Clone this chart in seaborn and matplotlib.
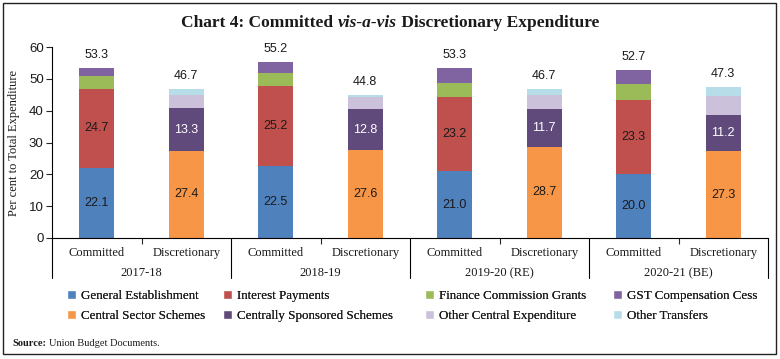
import numpy as np
import pandas as pd
import seaborn as sns
import matplotlib.pyplot as plt
from matplotlib.patches import Rectangle, Patch

# data (per cent to total expenditure)
years = ['2017-18', '2018-19', '2019-20 (RE)', '2020-21 (BE)']
kinds = ['Committed', 'Discretionary']

committed_names = ['General Establishment', 'Interest Payments',
                   'Finance Commission Grants', 'GST Compensation Cess']
general_est = [22.1, 22.5, 21.0, 20.0]
interest_pay = [24.7, 25.2, 23.2, 23.3]
fc_grants = [4.2, 4.1, 4.5, 5.0]
gst_cess = [2.3, 3.4, 4.6, 4.4]
committed_total = [53.3, 55.2, 53.3, 52.7]

discretionary_names = ['Central Sector Schemes', 'Centrally Sponsored Schemes',
                       'Other Central Expenditure', 'Other Transfers']
central_sector = [27.4, 27.6, 28.7, 27.3]
centrally_sponsored = [13.3, 12.8, 11.7, 11.2]
other_central = [4.3, 4.0, 4.4, 6.0]
other_transfers = [1.7, 0.4, 1.9, 2.8]
discretionary_total = [46.7, 44.8, 46.7, 47.3]

committed_colors = ['#4F81BD', '#C0504D', '#9BBB59', '#8064A2']
discretionary_colors = ['#F79646', '#604A7B', '#CCC1DA', '#B7DEE8']

# long table
rows = []
for i, yr in enumerate(years):
    for name, vals in zip(committed_names, [general_est, interest_pay, fc_grants, gst_cess]):
        rows.append((yr + ' Committed', 'Committed', name, vals[i]))
    for name, vals in zip(discretionary_names, [central_sector, centrally_sponsored, other_central, other_transfers]):
        rows.append((yr + ' Discretionary', 'Discretionary', name, vals[i]))
df = pd.DataFrame(rows, columns=['bar', 'kind', 'segment', 'value'])
df['top'] = df.groupby('bar')['value'].cumsum()
df['mid'] = df['top'] - df['value'] / 2
bar_order = [yr + ' ' + k for yr in years for k in kinds]

sns.set_style('white')
plt.rcParams['font.family'] = ['Liberation Serif', 'DejaVu Serif']
sans = ['Liberation Sans', 'DejaVu Sans']
ink = '#1a1a1a'

W, H = 780, 359
fig = plt.figure(figsize=(W / 100, H / 100), dpi=100)
ax = fig.add_axes([52 / W, 1 - 238 / H, 716 / W, 191 / H])

# stacked bars: draw cumulative tops from the top layer down
for level in range(3, -1, -1):
    for names, colors in [(committed_names, committed_colors),
                          (discretionary_names, discretionary_colors)]:
        sub = df[df['segment'] == names[level]]
        sns.barplot(data=sub, x='bar', y='top', order=bar_order, color=colors[level],
                    saturation=1, width=0.39, linewidth=0, errorbar=None, ax=ax)

# segment labels
label_segs = {'General Establishment': ink, 'Interest Payments': ink,
              'Central Sector Schemes': ink, 'Centrally Sponsored Schemes': 'white'}
for _, r in df[df['segment'].isin(label_segs)].iterrows():
    ax.text(bar_order.index(r['bar']), r['mid'], f"{r['value']:.1f}", ha='center', va='center',
            fontsize=9, color=label_segs[r['segment']], family=sans)

# totals
totals = []
for i in range(4):
    totals += [committed_total[i], discretionary_total[i]]
for x, t in enumerate(totals):
    ax.text(x, t + 4.3, f'{t:.1f}', ha='center', va='center', fontsize=9, color=ink, family=sans)

ax.set_xlim(-0.5, 7.5)
ax.set_ylim(0, 60)
ax.set_yticks(range(0, 61, 10))
ax.tick_params(axis='y', labelsize=9.5, length=4, width=0.8, direction='out', left=True, pad=2,
               labelcolor=ink)
for lab in ax.get_yticklabels():
    lab.set_family(sans)
ax.set_xticks([0.5, 2.5, 4.5, 6.5])
ax.set_xticklabels([])
ax.tick_params(axis='x', length=4, width=0.8, direction='out', bottom=True)
ax.set_xlabel('')
ax.set_ylabel('Per cent to Total Expenditure', fontsize=9, labelpad=6, color=ink)
for s in ['top', 'right']:
    ax.spines[s].set_visible(False)
for s in ['left', 'bottom']:
    ax.spines[s].set_color('black')
    ax.spines[s].set_linewidth(0.8)

# two-level category axis
tr = ax.get_xaxis_transform()
for x in [-0.5, 1.5, 3.5, 5.5, 7.5]:
    ax.plot([x, x], [0, -0.21], color='black', lw=0.8, transform=tr, clip_on=False)
for i, yr in enumerate(years):
    for j, k in enumerate(kinds):
        ax.text(2 * i + j, -0.078, k, transform=tr, ha='center', va='center', fontsize=9, color=ink)
    ax.text(2 * i + 0.5, -0.183, yr, transform=tr, ha='center', va='center', fontsize=9, color=ink)

# legend: four columns of two entries
col_x = [67, 223, 425, 613]
for c, cx in enumerate(col_x):
    handles = [Patch(facecolor=committed_colors[c], label=committed_names[c]),
               Patch(facecolor=discretionary_colors[c], label=discretionary_names[c])]
    leg = fig.legend(handles=handles, loc='upper left', bbox_to_anchor=(cx / W, 1 - 290 / H),
                     frameon=False, fontsize=9.4, handlelength=0.7, handleheight=0.7,
                     handletextpad=0.35, labelspacing=0.62, borderpad=0, borderaxespad=0,
                     labelcolor=ink)
    fig.add_artist(leg)

# title (italic middle part)
fig.canvas.draw()
renderer = fig.canvas.get_renderer()
parts = [('Chart 4: Committed ', 'normal'), ('vis-a-vis', 'italic'), (' Discretionary Expenditure', 'normal')]
texts = [fig.text(0, 1 - 23 / H, p, fontsize=12.5, fontweight='bold', style=st, va='center', color=ink)
         for p, st in parts]
widths = [t.get_window_extent(renderer).width for t in texts]
x0 = (W - sum(widths)) / 2
for t, w in zip(texts, widths):
    t.set_x(x0 / W)
    x0 += w

# source note
src = fig.text(12 / W, 1 - 343 / H, 'Source:', fontsize=7.5, fontweight='bold', va='center', color=ink)
sw = src.get_window_extent(renderer).width
fig.text((12 + sw + 3) / W, 1 - 343 / H, 'Union Budget Documents.', fontsize=7.5, va='center', color=ink)

# outer frame
fig.patches.append(Rectangle((3 / W, 1 - 354 / H), 773 / W, 351 / H, transform=fig.transFigure,
                             fill=False, edgecolor='#222222', linewidth=1))

fig.savefig('out.png', dpi=100)
